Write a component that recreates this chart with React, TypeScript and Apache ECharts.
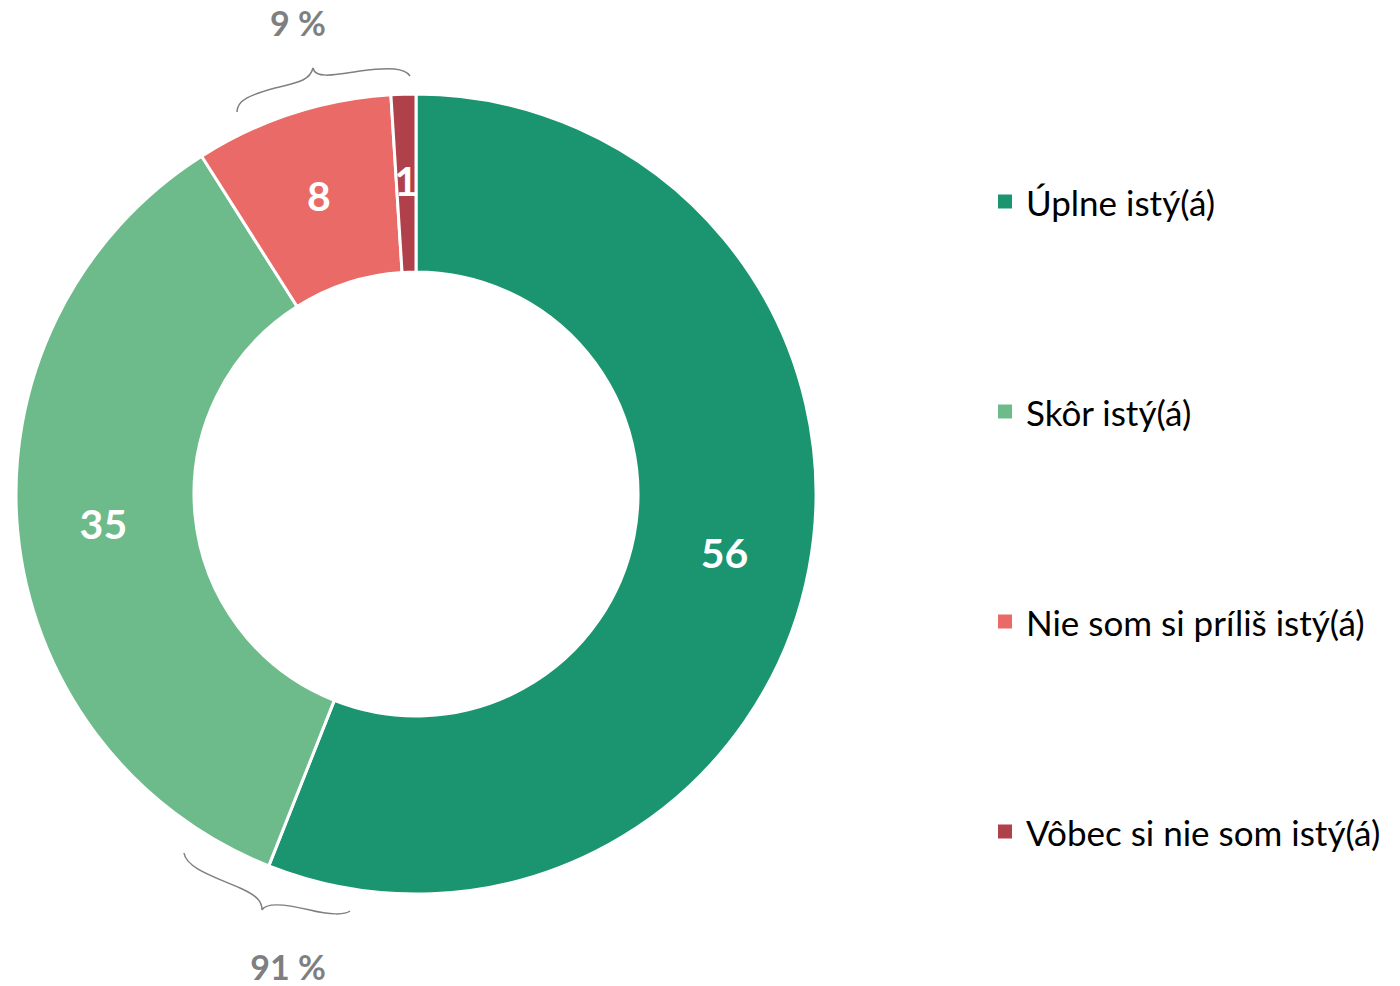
import React, { useEffect, useRef } from "react";
import * as echarts from "echarts";

const categories = ["Úplne istý(á)", "Skôr istý(á)", "Nie som si príliš istý(á)", "Vôbec si nie som istý(á)"];
const values = [56, 35, 8, 1];
const colors = ["#1b9570", "#6dba8b", "#e96a67", "#b0404a"];
const groupLabels = ["9 %", "91 %"];

const braceTop =
  "M237,112 C237,100 250,95 275,88 C300,82 310,80 313,68 C315,78 330,76 360,71 C390,67 405,68 410,76";
const braceBottom =
  "M184,853 C186,868 215,877 240,888 C258,896 262,902 262,910 C266,902 285,904 310,910 C330,915 345,915 350,911";

let registered = false;

export default function App() {
  const ref = useRef<HTMLDivElement>(null);
  useEffect(() => {
    document.body.style.margin = "0";
    if (!registered) {
      echarts.graphic.registerShape("braceTop", echarts.graphic.extendPath(braceTop, {}));
      echarts.graphic.registerShape("braceBottom", echarts.graphic.extendPath(braceBottom, {}));
      registered = true;
    }
    const chart = echarts.init(ref.current!, null, { renderer: "svg" });
    const font = "Lato, 'Open Sans', sans-serif";
    chart.setOption({
      animation: false,
      legend: {
        orient: "vertical",
        left: 991,
        top: 179,
        itemWidth: 16,
        itemHeight: 16,
        itemGap: 175,
        icon: "rect",
        data: categories,
        textStyle: { fontFamily: font, fontSize: 35, color: "#000", lineHeight: 30, padding: [0, 0, 0, 8] },
      },
      series: [
        {
          type: "pie",
          center: [416, 494],
          radius: [222, 400],
          startAngle: 90,
          clockwise: true,
          avoidLabelOverlap: false,
          itemStyle: { borderColor: "#fff", borderWidth: 3 },
          label: {
            show: true,
            position: "inside",
            formatter: "{c}",
            color: "#fff",
            fontFamily: font,
            fontWeight: "bold",
            fontSize: 41,
          },
          labelLine: { show: false },
          data: categories.map((name, i) => ({ name, value: values[i], itemStyle: { color: colors[i] } })),
        },
      ],
      graphic: [
        { type: "braceTop", x: 0, y: 0, shape: {}, style: { fill: "none", stroke: "#808080", lineWidth: 1.5 } },
        { type: "braceBottom", x: 0, y: 0, shape: {}, style: { fill: "none", stroke: "#808080", lineWidth: 1.5 } },
        {
          type: "text",
          x: 298,
          y: 22,
          style: { text: groupLabels[0], fill: "#7f7f7f", font: `bold 34px ${font}`, textAlign: "center", textVerticalAlign: "middle" },
        },
        {
          type: "text",
          x: 288,
          y: 966,
          style: { text: groupLabels[1], fill: "#7f7f7f", font: `bold 34px ${font}`, textAlign: "center", textVerticalAlign: "middle" },
        },
      ],
    });
    return () => chart.dispose();
  }, []);
  return <div ref={ref} style={{ width: 1400, height: 986 }} />;
}
